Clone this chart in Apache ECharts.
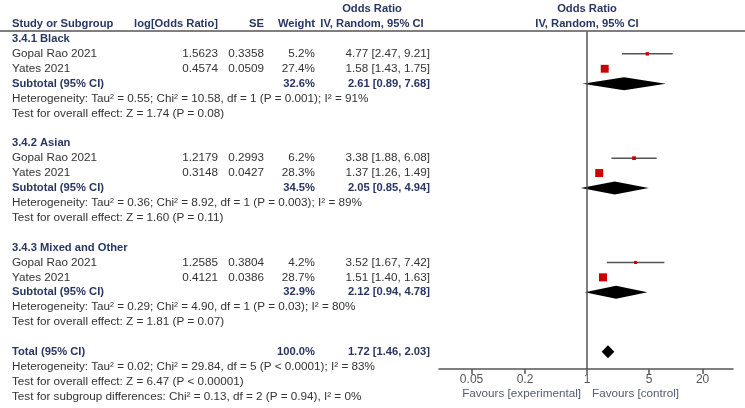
<!DOCTYPE html>
<html><head><meta charset="utf-8">
<script src="https://cdn.jsdelivr.net/npm/echarts@6/dist/echarts.min.js"></script>
<style>html,body{margin:0;padding:0;background:#fff}#c{width:745px;height:408px}</style>
</head><body><div id="c"></div>
<script>
// ---------------- data ----------------
const groupNames = ['3.4.1 Black', '3.4.2 Asian', '3.4.3 Mixed and Other'];
const studyNames = ['Gopal Rao 2021', 'Yates 2021'];
const logOR   = [[1.5623, 0.4574], [1.2179, 0.3148], [1.2585, 0.4121]];
const seVals  = [[0.3358, 0.0509], [0.2993, 0.0427], [0.3804, 0.0386]];
const weights = [[5.2, 27.4], [6.2, 28.3], [4.2, 28.7]];
const studyOR = [[4.77, 1.58], [3.38, 1.37], [3.52, 1.51]];
const studyLo = [[2.47, 1.43], [1.88, 1.26], [1.67, 1.40]];
const studyHi = [[9.21, 1.75], [6.08, 1.49], [7.42, 1.63]];
const subtotalWeight = [32.6, 34.5, 32.9];
const subtotalOR = [2.61, 2.05, 2.12];
const subtotalLo = [0.89, 0.85, 0.94];
const subtotalHi = [7.68, 4.94, 4.78];
const subgroupHet = [
  'Heterogeneity: Tau² = 0.55; Chi² = 10.58, df = 1 (P = 0.001); I² = 91%',
  'Heterogeneity: Tau² = 0.36; Chi² = 8.92, df = 1 (P = 0.003); I² = 89%',
  'Heterogeneity: Tau² = 0.29; Chi² = 4.90, df = 1 (P = 0.03); I² = 80%'
];
const subgroupTest = [
  'Test for overall effect: Z = 1.74 (P = 0.08)',
  'Test for overall effect: Z = 1.60 (P = 0.11)',
  'Test for overall effect: Z = 1.81 (P = 0.07)'
];
const totalWeight = 100.0;
const totalOR = 1.72, totalLo = 1.46, totalHi = 2.03;
const totalHet = 'Heterogeneity: Tau² = 0.02; Chi² = 29.84, df = 5 (P < 0.0001); I² = 83%';
const totalTest = 'Test for overall effect: Z = 6.47 (P < 0.00001)';
const diffTest = 'Test for subgroup differences: Chi² = 0.13, df = 2 (P = 0.94), I² = 0%';
const tickValues = [0.05, 0.2, 1, 5, 20];
const tickLabels = ['0.05', '0.2', '1', '5', '20'];
const axisRangeOR = [0.0215, 44];
const favourLabels = ['Favours [experimental]', 'Favours [control]'];

// ---------------- layout / style ----------------
const FONT = 'Liberation Sans, Arial, sans-serif';
const NAVY = '#283663';
const TXT = '#333333';
const REG = '11.7px ' + FONT;
const BOLD = 'bold 11.2px ' + FONT;
const COLS = { name: [12, 'left'], logor: [218, 'right'], se: [264, 'right'], weight: [315, 'right'], ci: [430, 'right'] };
const L = Math.log10;
const ciText = (o, lo, hi) => o.toFixed(2) + ' [' + lo.toFixed(2) + ', ' + hi.toFixed(2) + ']';

// build table rows (row index = vertical slot)
const rows = [];
const studyPts = [];
const diamonds = [];
let r = 0;
groupNames.forEach((g, gi) => {
  rows.push({ row: r, cells: [{ t: g, c: 'name', b: true }] }); r++;
  studyNames.forEach((s, si) => {
    rows.push({ row: r, cells: [
      { t: s, c: 'name' },
      { t: logOR[gi][si].toFixed(4), c: 'logor' },
      { t: seVals[gi][si].toFixed(4), c: 'se' },
      { t: weights[gi][si].toFixed(1) + '%', c: 'weight' },
      { t: ciText(studyOR[gi][si], studyLo[gi][si], studyHi[gi][si]), c: 'ci' }
    ] });
    studyPts.push([L(studyOR[gi][si]), r, L(studyLo[gi][si]), L(studyHi[gi][si]), weights[gi][si]]);
    r++;
  });
  rows.push({ row: r, cells: [
    { t: 'Subtotal (95% CI)', c: 'name', b: true },
    { t: subtotalWeight[gi].toFixed(1) + '%', c: 'weight', b: true },
    { t: ciText(subtotalOR[gi], subtotalLo[gi], subtotalHi[gi]), c: 'ci', b: true }
  ] });
  diamonds.push([L(subtotalOR[gi]), r, L(subtotalLo[gi]), L(subtotalHi[gi])]);
  r++;
  rows.push({ row: r, cells: [{ t: subgroupHet[gi], c: 'name' }] }); r++;
  rows.push({ row: r, cells: [{ t: subgroupTest[gi], c: 'name' }] }); r++;
  r++;
});
rows.push({ row: r, cells: [
  { t: 'Total (95% CI)', c: 'name', b: true },
  { t: totalWeight.toFixed(1) + '%', c: 'weight', b: true },
  { t: ciText(totalOR, totalLo, totalHi), c: 'ci', b: true }
] });
diamonds.push([L(totalOR), r, L(totalLo), L(totalHi)]);
r++;
rows.push({ row: r, cells: [{ t: totalHet, c: 'name' }] }); r++;
rows.push({ row: r, cells: [{ t: totalTest, c: 'name' }] }); r++;
rows.push({ row: r, cells: [{ t: diffTest, c: 'name' }] }); r++;

const chart = echarts.init(document.getElementById('c'), null, { renderer: 'canvas' });
const tickLog = tickValues.map(L);
const labelFor = v => { const i = tickLog.findIndex(t => Math.abs(t - v) < 1e-6); return i >= 0 ? tickLabels[i] : ''; };

const hdr = (text, x, y, align) => ({ type: 'text', x: x, y: y, style: { text: text, align: align, verticalAlign: 'middle', font: BOLD, fill: NAVY } });

chart.setOption({
  animation: false,
  backgroundColor: '#ffffff',
  grid: { left: 439, width: 294, top: 31.5, bottom: 39 },
  xAxis: {
    type: 'value', min: L(axisRangeOR[0]), max: L(axisRangeOR[1]), position: 'bottom',
    axisLine: { show: true, onZero: false, lineStyle: { color: '#555', width: 1.5 } },
    axisTick: { show: true, customValues: tickLog, length: 5, lineStyle: { color: '#555', width: 1.5 } },
    axisLabel: { show: true, customValues: tickLog, formatter: labelFor, color: '#555', fontSize: 12, fontFamily: FONT, margin: 5 },
    splitLine: { show: false }
  },
  yAxis: { type: 'value', inverse: true, min: -0.5, max: 22.15, show: false },
  series: [
    {
      type: 'custom', name: 'table', coordinateSystem: 'cartesian2d', silent: true,
      data: rows.map(rw => [0, rw.row]),
      encode: { x: 0, y: 1 },
      renderItem: (params, api) => {
        const rw = rows[params.dataIndex];
        const y = api.coord([0, api.value(1)])[1];
        return { type: 'group', children: rw.cells.map(c => ({
          type: 'text',
          style: { text: c.t, x: COLS[c.c][0], y: y, align: COLS[c.c][1], verticalAlign: 'middle',
                   font: c.b ? BOLD : REG, fill: c.b ? NAVY : TXT }
        })) };
      }
    },
    {
      type: 'custom', name: 'studies', coordinateSystem: 'cartesian2d', silent: true,
      data: studyPts, encode: { x: 0, y: 1 },
      renderItem: (params, api) => {
        const c = api.coord([api.value(0), api.value(1)]);
        const a = api.coord([api.value(2), api.value(1)]);
        const b = api.coord([api.value(3), api.value(1)]);
        const s = 1.5 * Math.sqrt(api.value(4));
        return { type: 'group', children: [
          { type: 'line', shape: { x1: a[0], y1: a[1], x2: b[0], y2: b[1] }, style: { stroke: '#555', lineWidth: 1.5 } },
          { type: 'rect', shape: { x: c[0] - s / 2, y: c[1] - s / 2, width: s, height: s }, style: { fill: '#cc0000' } }
        ] };
      }
    },
    {
      type: 'custom', name: 'diamonds', coordinateSystem: 'cartesian2d', silent: true,
      data: diamonds, encode: { x: 0, y: 1 },
      renderItem: (params, api) => {
        const c = api.coord([api.value(0), api.value(1)]);
        const a = api.coord([api.value(2), api.value(1)]);
        const b = api.coord([api.value(3), api.value(1)]);
        const h = 6.5;
        return { type: 'polygon', shape: { points: [[a[0], c[1]], [c[0], c[1] - h], [b[0], c[1]], [c[0], c[1] + h]] }, style: { fill: '#000' } };
      },
      markLine: {
        silent: true, symbol: ['none', 'none'], label: { show: false },
        lineStyle: { color: '#555', width: 1.5, type: 'solid' },
        data: [{ xAxis: 0 }]
      }
    }
  ],
  graphic: [
    { type: 'line', shape: { x1: 0, y1: 31, x2: 745, y2: 31 }, style: { stroke: '#555', lineWidth: 1.5 } },
    hdr('Odds Ratio', 372, 8.5, 'center'),
    hdr('Odds Ratio', 587, 8.5, 'center'),
    hdr('Study or Subgroup', 12, 24, 'left'),
    hdr('log[Odds Ratio]', 218, 24, 'right'),
    hdr('SE', 264, 24, 'right'),
    hdr('Weight', 315, 24, 'right'),
    hdr('IV, Random, 95% CI', 372, 24, 'center'),
    hdr('IV, Random, 95% CI', 587, 24, 'center'),
    { type: 'text', x: 581, y: 394, style: { text: favourLabels[0], align: 'right', verticalAlign: 'middle', font: REG, fill: '#555b70' } },
    { type: 'text', x: 592, y: 394, style: { text: favourLabels[1], align: 'left', verticalAlign: 'middle', font: REG, fill: '#555b70' } }
  ]
});
</script>
</body></html>
